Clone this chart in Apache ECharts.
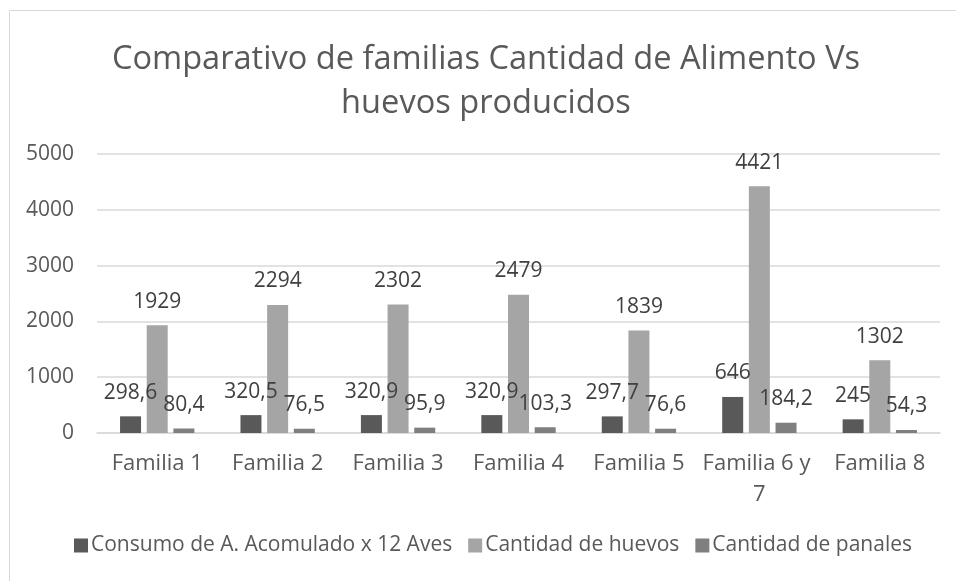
<!DOCTYPE html>
<html><head><meta charset="utf-8">
<script src="https://cdn.jsdelivr.net/npm/echarts@6/dist/echarts.min.js"></script>
<style>html,body{margin:0;padding:0;background:#fff}#c{width:956px;height:581px}</style>
</head><body><div id="c"></div>
<script>
const categories = ["Familia 1","Familia 2","Familia 3","Familia 4","Familia 5","Familia 6 y 7","Familia 8"];
const consumo = [298.6, 320.5, 320.9, 320.9, 297.7, 646, 245];
const huevos = [1929, 2294, 2302, 2479, 1839, 4421, 1302];
const panales = [80.4, 76.5, 95.9, 103.3, 76.6, 184.2, 54.3];
const yTicks = [0, 1000, 2000, 3000, 4000, 5000];
const seriesNames = ["Consumo de A. Acomulado x 12 Aves","Cantidad de huevos","Cantidad de panales"];
const colors = ["#595959","#a5a5a5","#7f7f7f"];
const titleText = 'Comparativo de familias Cantidad de Alimento Vs\nhuevos producidos';
const FONT = "Open Sans";

const chart = echarts.init(document.getElementById('c'));
const lbl = {
  show: true, position: 'top', distance: 13,
  color: '#404040', fontSize: 21, fontFamily: FONT,
  formatter: p => String(p.value).replace('.', ',')
};
const mk = (name, data, color) => ({
  name, type: 'bar', data, barWidth: 21, barGap: '27%',
  itemStyle: { color }, label: lbl
});
chart.setOption({
  animation: false,
  textStyle: { fontFamily: FONT },
  graphic: [
    { type: 'rect', shape: { x: 9.5, y: 10.5, width: 960, height: 600 },
      style: { fill: 'none', stroke: '#d9d9d9', lineWidth: 1 }, silent: true },
    { type: 'text', x: 486, y: 38, silent: true,
      style: { text: titleText, align: 'center', verticalAlign: 'top',
        fontFamily: FONT, fontSize: 32.6, lineHeight: 44, fill: '#595959' } }
  ],
  legend: {
    bottom: 20, left: 69,
    itemWidth: 14, itemHeight: 14, itemGap: 16, icon: 'rect',
    textStyle: { fontFamily: FONT, fontSize: 21, color: '#595959', padding: [0, 0, 0, -2] },
    data: seriesNames
  },
  grid: { left: 97, right: 16, top: 154, bottom: 148, containLabel: false },
  xAxis: {
    type: 'category', data: categories,
    axisLine: { lineStyle: { color: '#d9d9d9', width: 1.5 } },
    axisTick: { show: false },
    axisLabel: { fontFamily: FONT, fontSize: 22, color: '#595959', margin: 15,
      width: 120, overflow: 'break', lineHeight: 31, interval: 0 }
  },
  yAxis: {
    type: 'value', min: yTicks[0], max: yTicks[yTicks.length - 1], interval: 1000,
    axisLine: { show: false }, axisTick: { show: false },
    splitLine: { lineStyle: { color: '#d9d9d9', width: 1.5 } },
    axisLabel: { fontFamily: FONT, fontSize: 21, color: '#595959', margin: 23,
      formatter: v => String(v) }
  },
  series: [
    mk(seriesNames[0], consumo, colors[0]),
    mk(seriesNames[1], huevos, colors[1]),
    mk(seriesNames[2], panales, colors[2])
  ]
});
</script></body></html>
